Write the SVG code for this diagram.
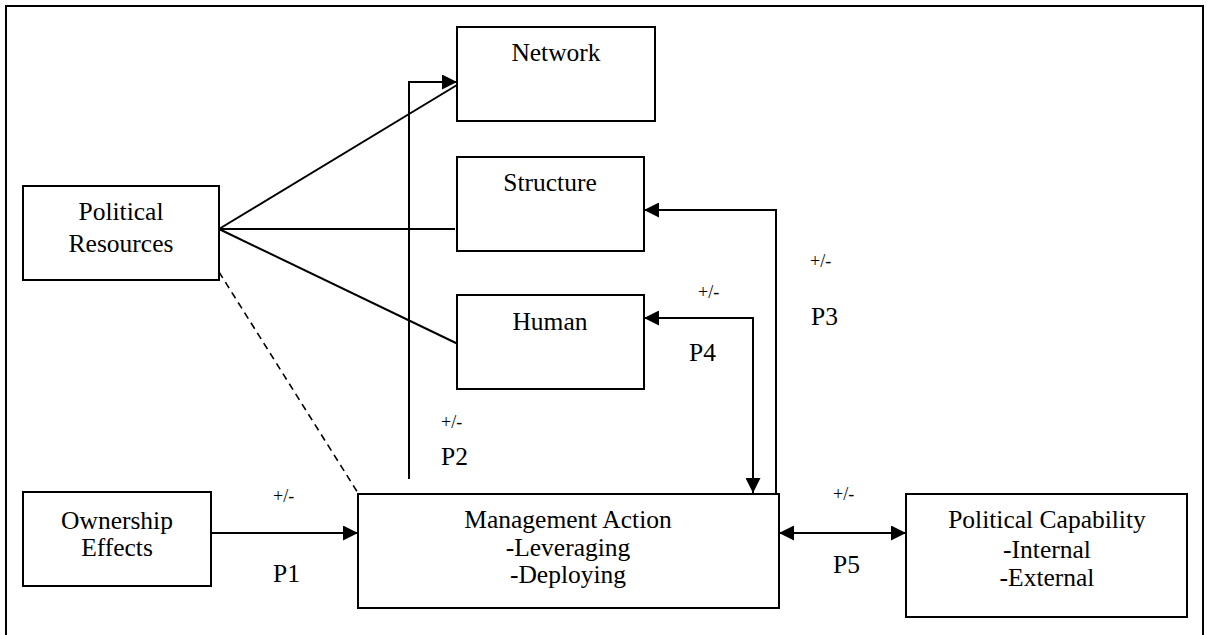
<svg xmlns="http://www.w3.org/2000/svg" width="1207" height="635" viewBox="0 0 1207 635">
<style>
  .box { fill: #fff; stroke: #000; stroke-width: 2; }
  text { font-family: 'Liberation Serif', 'Noto Serif', 'DejaVu Serif', 'Nimbus Roman', 'Nimbus Roman No9 L', FreeSerif, 'Times New Roman', Times, Georgia, serif; fill: #000; }
  .lbl { font-size: 25.5px; text-anchor: middle; }
  .pl { font-size: 25.5px; }
  .pm { font-size: 18px; }
  .ln { fill: none; stroke: #000; stroke-width: 2; }
  .arr { marker-end: url(#ah); }
  .dash { stroke-dasharray: 7 5; stroke-width: 1.6; }
</style>
<defs>
  <marker id="ah" viewBox="0 0 15 15" refX="15" refY="7.5" markerWidth="15" markerHeight="15" markerUnits="userSpaceOnUse" orient="auto-start-reverse">
    <path d="M0,0 L15,7.5 L0,15 z" fill="#000"/>
  </marker>
</defs>
<rect width="1207" height="635" fill="#fff"/>
<rect id="frame" x="6" y="6" width="1197" height="640" fill="none" stroke="#000" stroke-width="2"/>

<g id="connectors">
  <line class="ln" x1="219" y1="229" x2="457" y2="85"/>
  <line class="ln" x1="219" y1="229" x2="455" y2="229"/>
  <line class="ln" x1="219" y1="229" x2="458" y2="344"/>
  <line class="ln dash" x1="219" y1="272" x2="358" y2="493"/>
  <path class="ln arr" d="M409,479 V82 H457"/>
  <path class="ln arr" d="M776,493 V210 H644"/>
  <path class="ln arr" style="marker-start:url(#ah)" d="M644,318 H753 V493"/>
  <path class="ln arr" d="M208,533 H358"/>
  <path class="ln arr" style="marker-start:url(#ah)" d="M779,533 H906"/>
</g>

<g id="network">
  <rect class="box" x="457" y="27" width="198" height="94"/>
  <text class="lbl" x="556" y="61">Network</text>
</g>
<g id="structure">
  <rect class="box" x="457" y="157" width="187" height="94"/>
  <text class="lbl" x="550" y="191">Structure</text>
</g>
<g id="human">
  <rect class="box" x="457" y="295" width="187" height="94"/>
  <text class="lbl" x="550" y="330">Human</text>
</g>
<g id="political-resources">
  <rect class="box" x="23" y="186" width="196" height="94"/>
  <text class="lbl" x="121" y="220">Political</text>
  <text class="lbl" x="121" y="252">Resources</text>
</g>
<g id="ownership-effects">
  <rect class="box" x="23" y="492" width="188" height="94"/>
  <text class="lbl" x="117" y="529">Ownership</text>
  <text class="lbl" x="117" y="556">Effects</text>
</g>
<g id="management-action">
  <rect class="box" x="358" y="494" width="421" height="114"/>
  <text class="lbl" x="568" y="528">Management Action</text>
  <text class="lbl" x="568" y="556">-Leveraging</text>
  <text class="lbl" x="568" y="583">-Deploying</text>
</g>
<g id="political-capability">
  <rect class="box" x="906" y="494" width="281" height="123"/>
  <text class="lbl" x="1047" y="528">Political Capability</text>
  <text class="lbl" x="1047" y="558">-Internal</text>
  <text class="lbl" x="1047" y="586">-External</text>
</g>

<g id="labels">
  <text class="pm" x="273" y="502">+/-</text>
  <text class="pl" x="273" y="582">P1</text>
  <text class="pm" x="441" y="428">+/-</text>
  <text class="pl" x="441" y="465">P2</text>
  <text class="pm" x="810" y="267">+/-</text>
  <text class="pl" x="811" y="325">P3</text>
  <text class="pm" x="698" y="298">+/-</text>
  <text class="pl" x="689" y="361">P4</text>
  <text class="pm" x="833" y="500">+/-</text>
  <text class="pl" x="833" y="573">P5</text>
</g>
</svg>
